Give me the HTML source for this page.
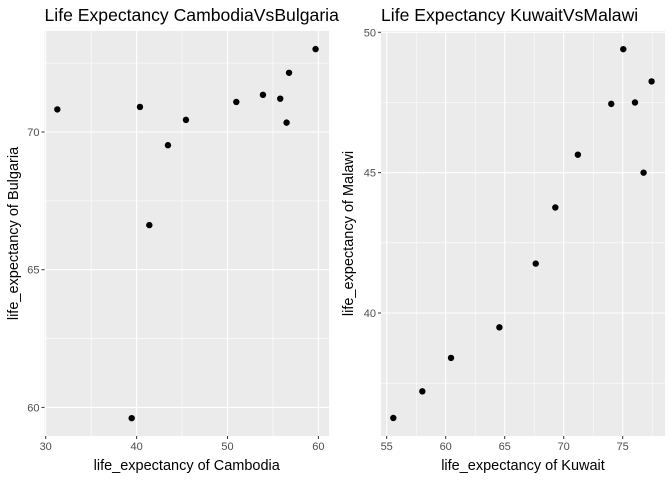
<!DOCTYPE html>
<html><head><meta charset="utf-8"><style>
body{margin:0;background:#fff;}
svg{display:block;font-family:"Liberation Sans",sans-serif;}
</style></head><body>
<svg id="chart" width="672" height="480"></svg>
<script>
const cambodia = [31.28,40.37,45.43,43.45,41.4,39.46,50.97,53.9,55.8,56.77,56.5,59.69];
const bulgaria = [70.82,70.91,70.44,69.52,66.62,59.61,71.09,71.35,71.21,72.15,70.34,73.01];
const kuwait = [55.56,58.02,60.45,64.55,67.63,69.29,71.2,74.03,75.05,76.04,76.77,77.45];
const malawi = [36.26,37.21,38.4,39.49,41.76,43.76,45.64,47.45,49.4,47.5,45.0,48.25];
const leftXTicks = [30,40,50,60];
const leftYTicks = [60,65,70];
const rightXTicks = [55,60,65,70,75];
const rightYTicks = [40,45,50];

const NS="http://www.w3.org/2000/svg";
const svg=document.getElementById('chart');
function mk(tag,attrs,parent){const e=document.createElementNS(NS,tag);for(const k in attrs)e.setAttribute(k,attrs[k]);(parent||svg).appendChild(e);return e;}

function panel(cfg){
  const g=mk('g',{});
  
  
  const {x0,x1,y0,y1}=cfg;
  const sx=v=>cfg.px0+(v-cfg.vx0)*cfg.kx;
  const sy=v=>cfg.py0-(v-cfg.vy0)*cfg.ky;
  const bg=mk('rect',{x:x0,y:y0,width:x1-x0,height:y1-y0,fill:'#ebebeb'},g);
  
  
  const xs=cfg.xt, ys=cfg.yt, dx=xs[1]-xs[0], dy=ys[1]-ys[0];
  for(let v=xs[0]-dx/2;v<=xs[xs.length-1]+dx;v+=dx){const p=sx(v);if(p>x0&&p<x1)mk('line',{x1:p,x2:p,y1:y0,y2:y1,stroke:'#fff','stroke-width':0.55},g);}
  for(let v=ys[0]-dy/2;v<=ys[ys.length-1]+dy;v+=dy){const p=sy(v);if(p>y0&&p<y1)mk('line',{x1:x0,x2:x1,y1:p,y2:p,stroke:'#fff','stroke-width':0.55},g);}
  xs.forEach(v=>{const p=sx(v);
    mk('line',{x1:p,x2:p,y1:y0,y2:y1,stroke:'#fff','stroke-width':1.1},g);
    mk('line',{x1:p,x2:p,y1:y1,y2:y1+3,stroke:'#333','stroke-width':1},g);
    const t=mk('text',{x:p,y:y1+14,'text-anchor':'middle','font-size':11,fill:'#4d4d4d'},g);t.textContent=v;
    
    });
  ys.forEach(v=>{const p=sy(v);
    mk('line',{x1:x0,x2:x1,y1:p,y2:p,stroke:'#fff','stroke-width':1.1},g);
    mk('line',{x1:x0-3,x2:x0,y1:p,y2:p,stroke:'#333','stroke-width':1},g);
    const t=mk('text',{x:x0-5,y:p+4,'text-anchor':'end','font-size':11,fill:'#4d4d4d'},g);t.textContent=v;
    
    });
  cfg.xv.forEach((v,i)=>{const c=mk('circle',{cx:sx(v),cy:sy(cfg.yv[i]),r:3.2,fill:'#000'},g);
    
    });
  const tt=mk('text',{x:x0,y:21,'font-size':17.6,fill:'#000'},g);tt.textContent=cfg.title;
  
  
  const xt=mk('text',{x:(x0+x1)/2,y:470,'text-anchor':'middle','font-size':14.5,fill:'#000'},g);xt.textContent=cfg.xl;
  
  
  const yc=(y0+y1)/2;
  const yt=mk('text',{x:cfg.ytx,y:yc,'text-anchor':'middle','font-size':14.5,fill:'#000',transform:`rotate(-90 ${cfg.ytx} ${yc})`},g);yt.textContent=cfg.yl;
  
  
}
panel({name:'cambodia-bulgaria-panel',x0:44.5,x1:329,y0:31,y1:436,px0:45.7,vx0:30,kx:9.09,py0:132,vy0:70,ky:27.54,
  xt:leftXTicks,yt:leftYTicks,xv:cambodia,yv:bulgaria,title:'Life Expectancy CambodiaVsBulgaria',xl:'life_expectancy of Cambodia',yl:'life_expectancy of Bulgaria',ytx:18});
panel({name:'kuwait-malawi-panel',x0:381,x1:665,y0:31,y1:436,px0:386.7,vx0:55,kx:11.8,py0:313,vy0:40,ky:28.07,
  xt:rightXTicks,yt:rightYTicks,xv:kuwait,yv:malawi,title:'Life Expectancy KuwaitVsMalawi',xl:'life_expectancy of Kuwait',yl:'life_expectancy of Malawi',ytx:353});
</script>
</body></html>
